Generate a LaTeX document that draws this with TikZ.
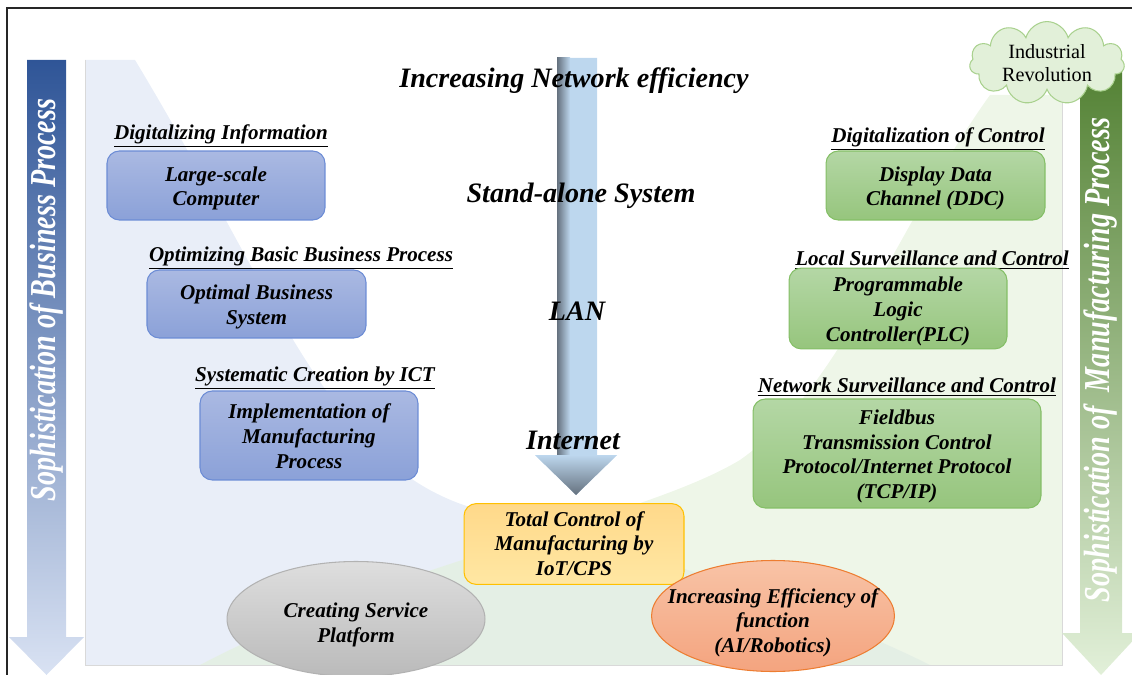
\documentclass[tikz,border=0pt]{standalone}
\usepackage{graphicx}
\usepackage{fontspec}
\setmainfont{Liberation Serif}
\usetikzlibrary{shapes.geometric,shapes.symbols}

\definecolor{bizdark}{HTML}{2F5597}
\definecolor{bizlight}{HTML}{D9E2F3}
\definecolor{bizregion}{HTML}{DAE3F3}
\definecolor{biztop}{HTML}{AAB9E2}
\definecolor{bizbot}{HTML}{8BA1D8}
\definecolor{bizline}{HTML}{6C8CD5}
\definecolor{mfgdark}{HTML}{548235}
\definecolor{mfglight}{HTML}{E2F0D9}
\definecolor{mfgregion}{HTML}{E2F0D9}
\definecolor{mfgtop}{HTML}{B4D7A5}
\definecolor{mfgbot}{HTML}{96C57D}
\definecolor{mfgline}{HTML}{84BF66}
\definecolor{netblue}{HTML}{BDD7EE}
\definecolor{netshade}{HTML}{65717E}
\definecolor{iottop}{HTML}{FFD98A}
\definecolor{iotbot}{HTML}{FFE7A3}
\definecolor{iotline}{HTML}{FFC000}
\definecolor{robtop}{HTML}{F8C3A6}
\definecolor{robbot}{HTML}{F4A47F}
\definecolor{robline}{HTML}{ED7D31}
\definecolor{cloudline}{HTML}{A9D18E}

% text block pushed down inside its shape
\newcommand{\lowered}[2]{\raisebox{-#1}[\height][\depth]{\begin{tabular}{@{}c@{}}#2\end{tabular}}}

\begin{document}
\begin{tikzpicture}[x=0.02cm, y=-0.02cm,
  every node/.style={font=\bfseries\itshape, text=black, align=center},
  box/.style={rounded corners=7pt, line width=0.6pt, inner sep=2pt,
    font=\fontsize{12}{14}\selectfont\bfseries\itshape},
  bizbox/.style={box, draw=bizline, top color=biztop, bottom color=bizbot},
  mfgbox/.style={box, draw=mfgline, top color=mfgtop, bottom color=mfgbot},
  iotbox/.style={box, draw=iotline, top color=iottop, bottom color=iotbot},
  oval/.style={ellipse, inner sep=0pt, line width=0.6pt,
    font=\fontsize{12}{14}\selectfont\bfseries\itshape},
  heading/.style={font=\fontsize{12}{14}\selectfont\bfseries\itshape},
  netlabel/.style={font=\fontsize{16}{18}\selectfont\bfseries\itshape},
  sidelabel/.style={rotate=90, text=white, font=\fontsize{16}{18}\selectfont\bfseries\itshape}]

  \useasboundingbox (0,0) rectangle (1132,675);
  \clip (0,0) rectangle (1132,675);

  % Regions
  \fill[bizregion, opacity=0.6] (85,60) -- (135,60) .. controls (280,300) and (330,470) .. (480,510)
    .. controls (600,540) and (800,600) .. (930,665) -- (85,665) -- cycle;
  \fill[mfgregion, opacity=0.6] (1062,95) -- (1062,665) -- (200,665) .. controls (400,560) and (640,520) .. (740,460)
    .. controls (840,390) and (900,220) .. (990,95) -- cycle;
  \draw[black!15, line width=0.5pt] (85,60) -- (85,665) -- (1062,665) -- (1062,95);

  % Side arrows
  \shade[top color=bizdark, bottom color=bizlight] (27,60) -- (66,60) -- (66,637) -- (84,637)
    -- (46.5,675) -- (9,637) -- (27,637) -- cycle;
  \shade[top color=mfgdark, bottom color=mfglight] (1080,70) -- (1122,70) -- (1122,633) -- (1140,633)
    -- (1101,675) -- (1062,633) -- (1080,633) -- cycle;
  \node[sidelabel] (bizlab) at (47,300) {\scalebox{1}[1.3]{Sophistication of Business Process}};
  \node[sidelabel] (mfglab) at (1101,360) {\scalebox{1}[1.3]{Sophistication of~ Manufacturing Process}};

  % Network arrow
  \fill[netblue] (557,58) -- (597,58) -- (597,455) -- (617,455) -- (576,495) -- (535,455) -- (557,455) -- cycle;
  \shade[left color=netshade, right color=netblue] (557,58) rectangle (570,455);
  \shade[top color=netblue, bottom color=netshade] (535,455) -- (617,455) -- (576,495) -- cycle;

  \node[netlabel] (title) at (574,81) {Increasing Network efficiency};
  \node[netlabel] (alone) at (581,196) {Stand-alone System};
  \node[netlabel] (lan) at (577,311) {LAN};
  \node[netlabel] (inet) at (573,440) {Internet};

  % Business side
  \node[heading] (h1) at (221,136) {\underline{Digitalizing Information}};
  \node[bizbox, minimum width=4.36cm, minimum height=1.38cm] (comp) at (216,185.5)
    {\lowered{1.7pt}{Large-scale\\Computer}};
  \node[heading] (h2) at (301,258) {\underline{Optimizing Basic Business Process}};
  \node[bizbox, minimum width=4.38cm, minimum height=1.36cm] (obs) at (256.5,304)
    {\lowered{1.7pt}{Optimal Business\\System}};
  \node[heading] (h3) at (315,378) {\underline{Systematic Creation by ICT}};
  \node[bizbox, minimum width=4.36cm, minimum height=1.78cm] (impl) at (309,435.5)
    {\lowered{1.7pt}{Implementation of\\Manufacturing\\Process}};

  % Manufacturing side
  \node[heading] (h4) at (938,139) {\underline{Digitalization of Control}};
  \node[mfgbox, minimum width=4.38cm, minimum height=1.38cm] (ddc) at (935.5,185.5)
    {\lowered{1.7pt}{Display Data\\Channel (DDC)}};
  \node[heading] (h5) at (932,260) {\underline{Local Surveillance and Control}};
  \node[mfgbox, minimum width=4.36cm, minimum height=1.54cm] (plc) at (898,308.5)
    {\lowered{1.7pt}{Programmable\\Logic\\Controller(PLC)}};
  \node[heading] (h6) at (907,387) {\underline{Network Surveillance and Control}};
  \node[mfgbox, minimum width=5.76cm, minimum height=2.18cm] (tcp) at (897,453.5)
    {\lowered{1.7pt}{Fieldbus\\Transmission Control\\Protocol/Internet Protocol\\(TCP/IP)}};

  % Bottom
  \node[iotbox, minimum width=4.4cm, minimum height=1.44cm] (iot) at (574,544)
    {\lowered{1pt}{Total Control of\\Manufacturing by\\IoT/CPS}};
  \node[oval, draw=black!30, top color=black!13, bottom color=black!27, minimum width=5.16cm, minimum height=2.3cm]
    (service) at (356,619) {\lowered{3.5pt}{Creating Service\\Platform}};
  \node[oval, draw=robline, top color=robtop, bottom color=robbot, inner xsep=-0.4cm,
    minimum width=4.86cm, minimum height=2.22cm]
    (robot) at (773,616) {\lowered{4pt}{Increasing Efficiency of\\function\\(AI/Robotics)}};

  % Cloud
  \node[cloud, cloud puffs=11, aspect=2.2, draw=cloudline, fill=mfglight, line width=0.6pt,
    minimum width=3.1cm, minimum height=1.4cm, inner sep=0pt,
    font=\fontsize{11.5}{13.5}\selectfont\mdseries\upshape] (rev) at (1047,63) {Industrial\\Revolution};

  % Frame
  \draw[line width=0.8pt, black!85] (7,675) -- (7,8) -- (1132,8);
\end{tikzpicture}
\end{document}
